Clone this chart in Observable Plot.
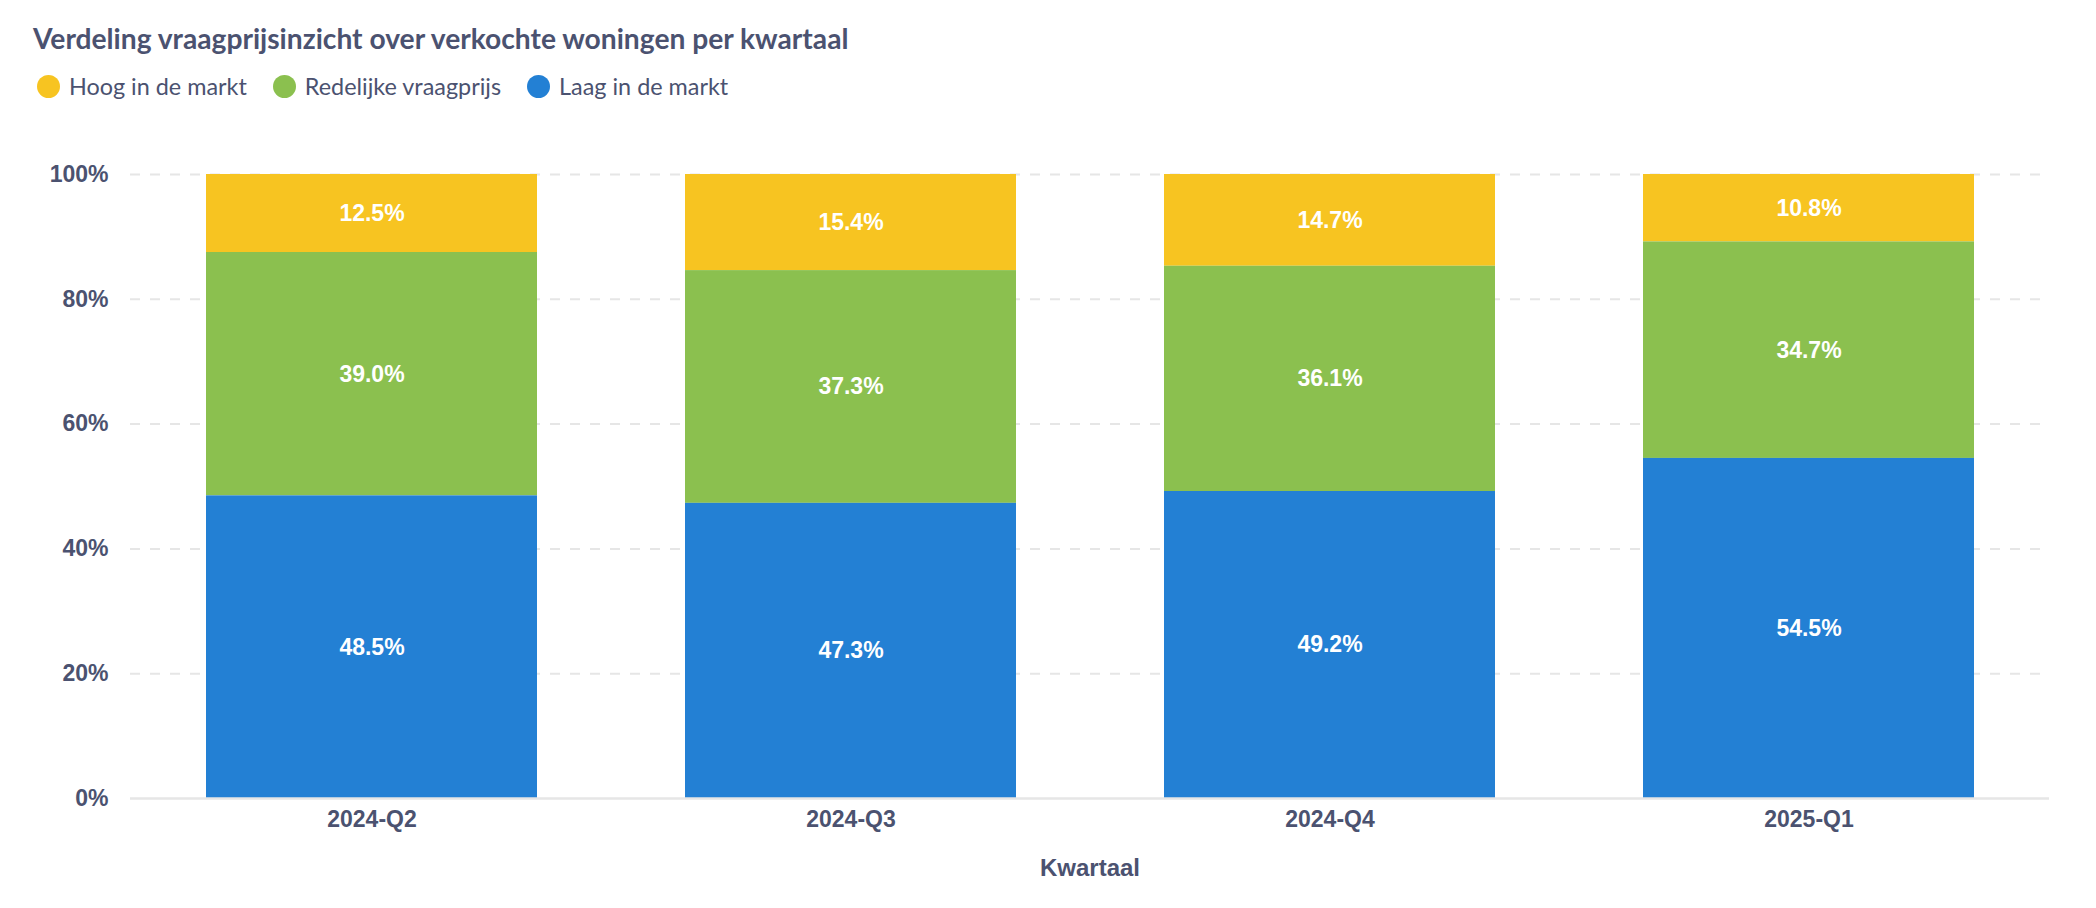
<!DOCTYPE html>
<html>
<head>
<meta charset="utf-8">
<script src="https://cdn.jsdelivr.net/npm/d3@7"></script>
<script src="https://cdn.jsdelivr.net/npm/@observablehq/plot@0.6"></script>
<style>
  html, body { margin: 0; padding: 0; background: #fff; }
  body { width: 2096px; height: 908px; position: relative; overflow: hidden; }
  #title { position: absolute; left: 33px; top: 22px; font-family: Lato, sans-serif; font-weight: 700; font-size: 28.2px; line-height: 1.2; color: #4b5270; white-space: nowrap; }
  #legend { position: absolute; left: 37px; top: 72px; height: 28px; display: flex; align-items: center; font-family: Lato, sans-serif; font-size: 23.4px; line-height: 1.2; color: #4b5270; }
  .item { display: flex; align-items: center; margin-right: 26px; }
  .dot { width: 23px; height: 23px; border-radius: 50%; margin-right: 9px; }
  #chart { position: absolute; left: 0; top: 110px; }
</style>
</head>
<body>
<div id="title">Verdeling vraagprijsinzicht over verkochte woningen per kwartaal</div>
<div id="legend"></div>
<div id="chart"></div>
<script>
const quarters = ["2024-Q2", "2024-Q3", "2024-Q4", "2025-Q1"];
const seriesNames = ["Hoog in de markt", "Redelijke vraagprijs", "Laag in de markt"];
const seriesColors = ["#F7C421", "#8BC04F", "#2380D4"];
const hoog = [12.5, 15.4, 14.7, 10.8];
const redelijk = [39.0, 37.3, 36.1, 34.7];
const laag = [48.5, 47.3, 49.2, 54.5];
const yTicks = [0, 0.2, 0.4, 0.6, 0.8, 1.0];
const xLabel = "Kwartaal";

// legend
const legend = document.getElementById("legend");
seriesNames.forEach((name, i) => {
  const item = document.createElement("div");
  item.className = "item";
  const dot = document.createElement("span");
  dot.className = "dot";
  dot.style.background = seriesColors[i];
  const label = document.createElement("span");
  label.textContent = name;
  item.appendChild(dot);
  item.appendChild(label);
  legend.appendChild(item);
});

// tidy table
const valuesBySeries = [hoog, redelijk, laag];
const data = [];
quarters.forEach((q, qi) => {
  seriesNames.forEach((s, si) => {
    data.push({quarter: q, series: s, value: valuesBySeries[si][qi] / 100});
  });
});
const stackOrder = ["Laag in de markt", "Redelijke vraagprijs", "Hoog in de markt"];
const textColor = "#4b5270";
const gridColor = "#e6e6e6";

const chart = Plot.plot({
  width: 2096,
  height: 788,
  marginTop: 64,
  marginBottom: 100,
  marginLeft: 130,
  marginRight: 47,
  style: {fontFamily: "'Liberation Sans', Arial, sans-serif", fontSize: "23px", fontWeight: "bold", color: textColor, background: "transparent"},
  x: {domain: quarters, paddingInner: 0.31, paddingOuter: 0.155, label: null},
  y: {domain: [0, 1], label: null},
  color: {domain: seriesNames, range: seriesColors},
  marks: [
    Plot.gridY(yTicks.filter(d => d > 0), {stroke: gridColor, strokeOpacity: 1, strokeWidth: 2, strokeDasharray: "10,10"}),
    Plot.barY(data, {x: "quarter", y: "value", z: "series", fill: "series", order: stackOrder}),
    Plot.ruleY([0], {stroke: gridColor, strokeWidth: 2.5}),
    Plot.axisY(yTicks, {tickSize: 0, tickPadding: 22, tickFormat: d3.format(".0%"), fill: textColor, fontSize: 23, fontWeight: "bold", label: null}),
    Plot.axisX({tickSize: 0, tickPadding: 12, fill: textColor, fontSize: 23, fontWeight: "bold", label: null}),
    Plot.text(data, Plot.stackY({x: "quarter", y: "value", z: "series", order: stackOrder, text: d => (d.value * 100).toFixed(1) + "%", fill: "white", fontSize: 23, fontWeight: "bold"})),
    Plot.text([xLabel], {frameAnchor: "bottom", dy: 60, lineAnchor: "top", fill: textColor, fontSize: 24, fontWeight: "bold"})
  ]
});
document.getElementById("chart").appendChild(chart);
</script>
</body>
</html>
